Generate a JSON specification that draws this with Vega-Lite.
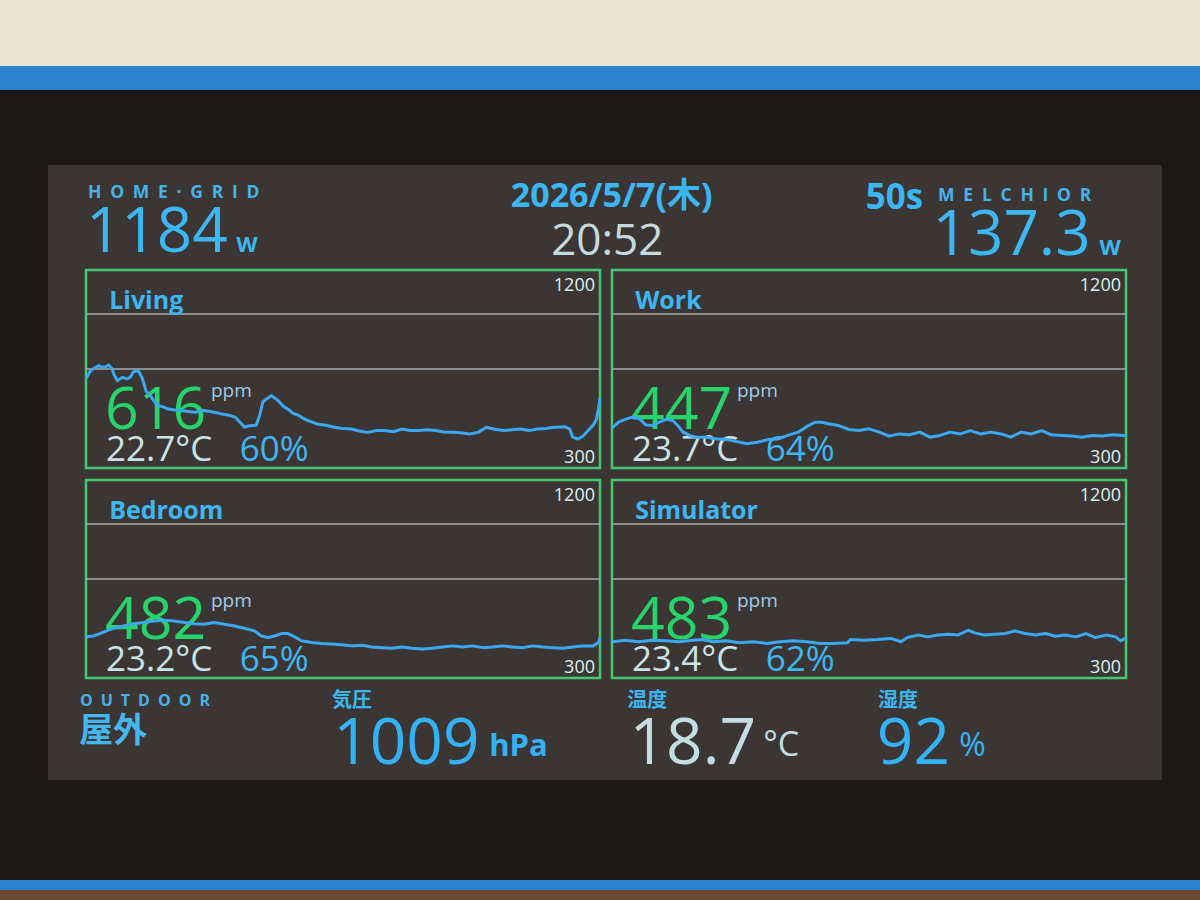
{
"$schema": "https://vega.github.io/schema/vega-lite/v6.json",
"background": "#3b3634",
"padding": 0,
"spacing": 0,
"config": {"view": {"stroke": null}, "concat": {"spacing": 0}, "text": {"font": "Open Sans, Noto Sans CJK JP"}},
"datasets": {
"header": [{"grid_label": "HOME·GRID", "grid_w": 1184, "date": "2026/5/7(木)", "time": "20:52", "age": "50s", "pc_label": "MELCHIOR", "pc_w": 137.3}],
"outdoor": [{"place": "OUTDOOR", "place_ja": "屋外", "pressure": 1009, "temp": 18.7, "hum": 92}],
"rooms": [{"room": "Living", "ppm": 616, "temp": 22.7, "hum": 60}, {"room": "Work", "ppm": 447, "temp": 23.7, "hum": 64}, {"room": "Bedroom", "ppm": 482, "temp": 23.2, "hum": 65}, {"room": "Simulator", "ppm": 483, "temp": 23.4, "hum": 62}],
"bounds": [{"lim": 1200}, {"lim": 300}],
"living": [{"t":0,"ppm":705},{"t":0.8,"ppm":740},{"t":1.5,"ppm":752},{"t":2.4,"ppm":765},{"t":3.1,"ppm":758},{"t":3.8,"ppm":760},{"t":4.4,"ppm":768},{"t":5.1,"ppm":750},{"t":5.4,"ppm":727},{"t":6.1,"ppm":697},{"t":7.1,"ppm":712},{"t":8.0,"ppm":705},{"t":8.7,"ppm":715},{"t":9.2,"ppm":737},{"t":10.2,"ppm":742},{"t":11.0,"ppm":705},{"t":11.7,"ppm":648},{"t":12.3,"ppm":636},{"t":13.0,"ppm":612},{"t":14.0,"ppm":583},{"t":15.0,"ppm":578},{"t":16.0,"ppm":568},{"t":17.3,"ppm":564},{"t":18.6,"ppm":561},{"t":19.9,"ppm":557},{"t":21.2,"ppm":553},{"t":22.5,"ppm":562},{"t":23.9,"ppm":558},{"t":25.2,"ppm":552},{"t":26.5,"ppm":545},{"t":27.8,"ppm":540},{"t":29.1,"ppm":530},{"t":30.1,"ppm":505},{"t":30.8,"ppm":485},{"t":31.8,"ppm":492},{"t":33.1,"ppm":494},{"t":33.8,"ppm":540},{"t":34.4,"ppm":600},{"t":35.1,"ppm":614},{"t":36.1,"ppm":629},{"t":36.7,"ppm":618},{"t":37.4,"ppm":606},{"t":38.4,"ppm":580},{"t":39.4,"ppm":566},{"t":40.3,"ppm":548},{"t":41.3,"ppm":540},{"t":42.3,"ppm":525},{"t":43.6,"ppm":512},{"t":45.0,"ppm":500},{"t":46.6,"ppm":494},{"t":48.3,"ppm":485},{"t":49.9,"ppm":480},{"t":51.6,"ppm":477},{"t":53.2,"ppm":468},{"t":54.8,"ppm":462},{"t":56.5,"ppm":470},{"t":58.1,"ppm":470},{"t":59.8,"ppm":465},{"t":61.4,"ppm":477},{"t":63.1,"ppm":470},{"t":64.7,"ppm":470},{"t":66.4,"ppm":474},{"t":68.0,"ppm":470},{"t":69.7,"ppm":464},{"t":71.3,"ppm":462},{"t":72.9,"ppm":460},{"t":74.6,"ppm":455},{"t":76.3,"ppm":462},{"t":77.9,"ppm":485},{"t":79.5,"ppm":476},{"t":81.2,"ppm":470},{"t":82.9,"ppm":474},{"t":84.5,"ppm":477},{"t":86.2,"ppm":470},{"t":87.8,"ppm":477},{"t":89.5,"ppm":480},{"t":91.1,"ppm":485},{"t":93.1,"ppm":488},{"t":94.1,"ppm":478},{"t":94.7,"ppm":440},{"t":95.7,"ppm":432},{"t":96.7,"ppm":445},{"t":97.7,"ppm":470},{"t":98.7,"ppm":495},{"t":99.3,"ppm":520},{"t":99.7,"ppm":570},{"t":100,"ppm":616}],
"work": [{"t":0,"ppm":481},{"t":1.3,"ppm":508},{"t":2.6,"ppm":521},{"t":3.9,"ppm":531},{"t":5.3,"ppm":524},{"t":6.6,"ppm":496},{"t":7.9,"ppm":493},{"t":9.2,"ppm":508},{"t":10.5,"ppm":521},{"t":11.8,"ppm":516},{"t":12.8,"ppm":493},{"t":13.8,"ppm":463},{"t":15.1,"ppm":448},{"t":16.4,"ppm":440},{"t":18.4,"ppm":440},{"t":20.4,"ppm":432},{"t":22.4,"ppm":429},{"t":24.3,"ppm":420},{"t":26.3,"ppm":410},{"t":28.3,"ppm":417},{"t":30.3,"ppm":429},{"t":32.2,"ppm":432},{"t":34.2,"ppm":448},{"t":36.2,"ppm":463},{"t":38.2,"ppm":493},{"t":39.5,"ppm":508},{"t":40.8,"ppm":508},{"t":42.1,"ppm":501},{"t":44.1,"ppm":493},{"t":46.1,"ppm":475},{"t":48.0,"ppm":470},{"t":50.0,"ppm":478},{"t":52.0,"ppm":463},{"t":53.9,"ppm":445},{"t":55.9,"ppm":455},{"t":57.9,"ppm":451},{"t":59.9,"ppm":463},{"t":61.8,"ppm":440},{"t":63.8,"ppm":448},{"t":65.8,"ppm":463},{"t":67.8,"ppm":455},{"t":69.7,"ppm":470},{"t":71.7,"ppm":455},{"t":73.7,"ppm":463},{"t":75.7,"ppm":455},{"t":77.6,"ppm":440},{"t":79.6,"ppm":463},{"t":81.6,"ppm":455},{"t":83.6,"ppm":470},{"t":85.5,"ppm":451},{"t":87.5,"ppm":448},{"t":89.5,"ppm":445},{"t":91.4,"ppm":440},{"t":93.4,"ppm":448},{"t":95.4,"ppm":445},{"t":97.4,"ppm":451},{"t":100,"ppm":447}],
"bedroom": [{"t":0,"ppm":487},{"t":1.4,"ppm":491},{"t":2.7,"ppm":502},{"t":4.0,"ppm":514},{"t":5.4,"ppm":526},{"t":7.3,"ppm":536},{"t":9.3,"ppm":547},{"t":11.2,"ppm":552},{"t":13.2,"ppm":559},{"t":15.1,"ppm":562},{"t":17.1,"ppm":559},{"t":19.1,"ppm":552},{"t":21.0,"ppm":547},{"t":23.0,"ppm":544},{"t":24.9,"ppm":552},{"t":26.9,"ppm":544},{"t":28.9,"ppm":536},{"t":30.8,"ppm":526},{"t":32.8,"ppm":514},{"t":34.1,"ppm":491},{"t":35.4,"ppm":484},{"t":36.7,"ppm":491},{"t":38.0,"ppm":502},{"t":39.3,"ppm":502},{"t":40.6,"ppm":487},{"t":41.9,"ppm":469},{"t":43.9,"ppm":461},{"t":45.8,"ppm":457},{"t":47.8,"ppm":454},{"t":49.7,"ppm":451},{"t":51.7,"ppm":446},{"t":53.7,"ppm":449},{"t":55.6,"ppm":441},{"t":57.6,"ppm":438},{"t":59.5,"ppm":435},{"t":61.5,"ppm":441},{"t":63.4,"ppm":435},{"t":65.4,"ppm":432},{"t":67.4,"ppm":435},{"t":69.3,"ppm":441},{"t":71.3,"ppm":446},{"t":73.2,"ppm":441},{"t":75.2,"ppm":446},{"t":77.2,"ppm":438},{"t":79.1,"ppm":441},{"t":81.1,"ppm":446},{"t":83.0,"ppm":441},{"t":85.0,"ppm":438},{"t":86.9,"ppm":446},{"t":88.9,"ppm":441},{"t":90.9,"ppm":438},{"t":92.8,"ppm":435},{"t":94.8,"ppm":441},{"t":96.7,"ppm":446},{"t":98.7,"ppm":446},{"t":99.7,"ppm":461},{"t":100,"ppm":482}],
"simulator": [{"t":0,"ppm":465},{"t":2.6,"ppm":472},{"t":5.2,"ppm":465},{"t":7.8,"ppm":472},{"t":10.5,"ppm":469},{"t":13.1,"ppm":465},{"t":15.7,"ppm":472},{"t":17.6,"ppm":475},{"t":19.6,"ppm":465},{"t":22.2,"ppm":469},{"t":24.8,"ppm":460},{"t":27.5,"ppm":465},{"t":30.1,"ppm":457},{"t":32.7,"ppm":465},{"t":35.3,"ppm":469},{"t":37.9,"ppm":465},{"t":40.5,"ppm":457},{"t":43.1,"ppm":457},{"t":45.8,"ppm":460},{"t":46.4,"ppm":475},{"t":49.0,"ppm":472},{"t":51.6,"ppm":475},{"t":54.2,"ppm":480},{"t":56.2,"ppm":465},{"t":57.5,"ppm":484},{"t":59.5,"ppm":495},{"t":61.4,"ppm":487},{"t":63.4,"ppm":495},{"t":65.4,"ppm":499},{"t":67.3,"ppm":495},{"t":69.3,"ppm":517},{"t":70.6,"ppm":505},{"t":72.5,"ppm":495},{"t":74.5,"ppm":499},{"t":76.5,"ppm":502},{"t":78.4,"ppm":514},{"t":80.4,"ppm":502},{"t":82.4,"ppm":495},{"t":84.3,"ppm":502},{"t":86.3,"ppm":490},{"t":88.2,"ppm":495},{"t":90.2,"ppm":487},{"t":92.2,"ppm":502},{"t":94.1,"ppm":484},{"t":96.1,"ppm":495},{"t":98.0,"ppm":487},{"t":99.0,"ppm":469},{"t":100,"ppm":483}]
},
"vconcat": [
{"width": 1200, "height": 66, "view": {"fill": "#ebe4d4"}, "data": {"values": []}, "mark": "text", "encoding": {}},
{"width": 1200, "height": 24, "view": {"fill": "#2c82cb"}, "data": {"values": []}, "mark": "text", "encoding": {}},
{"width": 1200, "height": 75, "view": {"fill": "#1b1717"}, "data": {"values": []}, "mark": "text", "encoding": {}},
{"hconcat": [
  {"width": 48, "height": 615, "view": {"fill": "#1b1717"}, "data": {"values": []}, "mark": "text", "encoding": {}},
  {"vconcat": [
    {"width": 1114, "height": 103, "data": {"name": "header"},
     "transform": [{"calculate": "join(split(datum.grid_label,''),'\u2002')", "as": "grid_sp"}, {"calculate": "join(split(datum.pc_label,''),'\u2002')", "as": "pc_sp"}],
     "layer": [
      {"mark": {"type": "text", "align": "left", "baseline": "alphabetic", "fontSize": 17.5, "fontWeight": "bold", "color": "#45b3ea"}, "encoding": {"x": {"datum": 3.59, "type": "quantitative", "scale": {"domain": [0,100], "nice": false, "zero": false}, "axis": null}, "y": {"datum": 32, "type": "quantitative", "scale": {"domain": [0,100], "reverse": true, "nice": false, "zero": false}, "axis": null}, "text": {"field": "grid_sp", "type": "nominal"}}},
      {"mark": {"type": "text", "align": "left", "baseline": "alphabetic", "fontSize": 62, "color": "#3cb7f4"}, "encoding": {"x": {"datum": 3.4, "type": "quantitative", "scale": {"domain": [0,100], "nice": false, "zero": false}, "axis": null}, "y": {"datum": 84.5, "type": "quantitative", "scale": {"domain": [0,100], "reverse": true, "nice": false, "zero": false}, "axis": null}, "text": {"field": "grid_w", "type": "quantitative", "format": "d"}}},
      {"mark": {"type": "text", "align": "left", "baseline": "alphabetic", "fontSize": 22, "fontWeight": "bold", "color": "#3cb7f4"}, "encoding": {"x": {"datum": 16.9, "type": "quantitative", "scale": {"domain": [0,100], "nice": false, "zero": false}, "axis": null}, "y": {"datum": 84.5, "type": "quantitative", "scale": {"domain": [0,100], "reverse": true, "nice": false, "zero": false}, "axis": null}, "text": {"value": "W"}}},
      {"mark": {"type": "text", "align": "center", "baseline": "alphabetic", "fontSize": 34, "fontWeight": "bold", "color": "#3cb6f3"}, "encoding": {"x": {"datum": 50.6, "type": "quantitative", "scale": {"domain": [0,100], "nice": false, "zero": false}, "axis": null}, "y": {"datum": 40.8, "type": "quantitative", "scale": {"domain": [0,100], "reverse": true, "nice": false, "zero": false}, "axis": null}, "text": {"field": "date", "type": "nominal"}}},
      {"mark": {"type": "text", "align": "center", "baseline": "alphabetic", "fontSize": 44, "color": "#c4dadf"}, "encoding": {"x": {"datum": 50.2, "type": "quantitative", "scale": {"domain": [0,100], "nice": false, "zero": false}, "axis": null}, "y": {"datum": 87.4, "type": "quantitative", "scale": {"domain": [0,100], "reverse": true, "nice": false, "zero": false}, "axis": null}, "text": {"field": "time", "type": "nominal"}}},
      {"mark": {"type": "text", "align": "left", "baseline": "alphabetic", "fontSize": 35, "fontWeight": "bold", "color": "#3cb6f3"}, "encoding": {"x": {"datum": 73.4, "type": "quantitative", "scale": {"domain": [0,100], "nice": false, "zero": false}, "axis": null}, "y": {"datum": 42.7, "type": "quantitative", "scale": {"domain": [0,100], "reverse": true, "nice": false, "zero": false}, "axis": null}, "text": {"field": "age", "type": "nominal"}}},
      {"mark": {"type": "text", "align": "left", "baseline": "alphabetic", "fontSize": 17.5, "fontWeight": "bold", "color": "#45b3ea"}, "encoding": {"x": {"datum": 79.9, "type": "quantitative", "scale": {"domain": [0,100], "nice": false, "zero": false}, "axis": null}, "y": {"datum": 35.0, "type": "quantitative", "scale": {"domain": [0,100], "reverse": true, "nice": false, "zero": false}, "axis": null}, "text": {"field": "pc_sp", "type": "nominal"}}},
      {"mark": {"type": "text", "align": "left", "baseline": "alphabetic", "fontSize": 62, "color": "#3cb7f4"}, "encoding": {"x": {"datum": 79.4, "type": "quantitative", "scale": {"domain": [0,100], "nice": false, "zero": false}, "axis": null}, "y": {"datum": 87.4, "type": "quantitative", "scale": {"domain": [0,100], "reverse": true, "nice": false, "zero": false}, "axis": null}, "text": {"field": "pc_w", "type": "quantitative", "format": ".1f"}}},
      {"mark": {"type": "text", "align": "left", "baseline": "alphabetic", "fontSize": 22, "fontWeight": "bold", "color": "#3cb7f4"}, "encoding": {"x": {"datum": 94.4, "type": "quantitative", "scale": {"domain": [0,100], "nice": false, "zero": false}, "axis": null}, "y": {"datum": 87.4, "type": "quantitative", "scale": {"domain": [0,100], "reverse": true, "nice": false, "zero": false}, "axis": null}, "text": {"value": "W"}}}
     ]},
    {"vconcat": [
      {"hconcat": [
        {"width": 29, "height": 198, "data": {"values": []}, "mark": "text", "encoding": {}},
        {"width": 514, "height": 198, "view": {"stroke": "#45c872", "strokeWidth": 2.5},
         "layer": [
          {"data": {"values": [{"level": 1000}, {"level": 750}]}, "mark": {"type": "rule", "color": "#a7abaf", "strokeWidth": 1.5}, "encoding": {"y": {"field": "level", "type": "quantitative", "scale": {"domain": [300,1200], "nice": false, "zero": false}, "axis": null}}},
          {"data": {"name": "bounds"}, "transform": [{"filter": "datum.lim === 1200"}], "mark": {"type": "text", "align": "right", "baseline": "alphabetic", "dx": -5, "dy": 21, "fontSize": 18, "color": "#dcf0f3"}, "encoding": {"x": {"datum": 100, "type": "quantitative", "scale": {"domain": [0,100], "nice": false, "zero": false}, "axis": null}, "y": {"field": "lim", "type": "quantitative", "scale": {"domain": [300,1200], "nice": false, "zero": false}, "axis": null}, "text": {"field": "lim", "type": "quantitative", "format": "d"}}},
          {"data": {"name": "bounds"}, "transform": [{"filter": "datum.lim === 300"}], "mark": {"type": "text", "align": "right", "baseline": "alphabetic", "dx": -5, "dy": -5, "fontSize": 18, "color": "#dcf0f3"}, "encoding": {"x": {"datum": 100, "type": "quantitative", "scale": {"domain": [0,100], "nice": false, "zero": false}, "axis": null}, "y": {"field": "lim", "type": "quantitative", "scale": {"domain": [300,1200], "nice": false, "zero": false}, "axis": null}, "text": {"field": "lim", "type": "quantitative", "format": "d"}}},
          {"data": {"name": "rooms"}, "transform": [{"filter": "datum.room === 'Living'"}, {"calculate": "format(datum.temp, '.1f') + '°C'", "as": "temp_label"}, {"calculate": "datum.hum + '%'", "as": "hum_label"}],
           "layer": [
            {"mark": {"type": "text", "align": "left", "baseline": "alphabetic", "fontSize": 25, "fontWeight": "bold", "color": "#3db6f3"}, "encoding": {"x": {"datum": 4.5, "type": "quantitative", "scale": {"domain": [0,100], "nice": false, "zero": false}, "axis": null}, "y": {"datum": 1023, "type": "quantitative", "scale": {"domain": [300,1200], "nice": false, "zero": false}, "axis": null}, "text": {"field": "room", "type": "nominal"}}},
            {"mark": {"type": "text", "align": "left", "baseline": "alphabetic", "fontSize": 59, "color": "#27d36b"}, "encoding": {"x": {"datum": 3.7, "type": "quantitative", "scale": {"domain": [0,100], "nice": false, "zero": false}, "axis": null}, "y": {"datum": 477, "type": "quantitative", "scale": {"domain": [300,1200], "nice": false, "zero": false}, "axis": null}, "text": {"field": "ppm", "type": "quantitative", "format": "d"}}},
            {"mark": {"type": "text", "align": "left", "baseline": "alphabetic", "fontSize": 19, "color": "#a2cbe6"}, "encoding": {"x": {"datum": 24.3, "type": "quantitative", "scale": {"domain": [0,100], "nice": false, "zero": false}, "axis": null}, "y": {"datum": 623, "type": "quantitative", "scale": {"domain": [300,1200], "nice": false, "zero": false}, "axis": null}, "text": {"value": "ppm"}}},
            {"mark": {"type": "text", "align": "left", "baseline": "alphabetic", "fontSize": 35, "color": "#c9e3e6"}, "encoding": {"x": {"datum": 3.9, "type": "quantitative", "scale": {"domain": [0,100], "nice": false, "zero": false}, "axis": null}, "y": {"datum": 332, "type": "quantitative", "scale": {"domain": [300,1200], "nice": false, "zero": false}, "axis": null}, "text": {"field": "temp_label", "type": "nominal"}}},
            {"mark": {"type": "text", "align": "left", "baseline": "alphabetic", "fontSize": 35, "color": "#3db6f3"}, "encoding": {"x": {"datum": 29.9, "type": "quantitative", "scale": {"domain": [0,100], "nice": false, "zero": false}, "axis": null}, "y": {"datum": 332, "type": "quantitative", "scale": {"domain": [300,1200], "nice": false, "zero": false}, "axis": null}, "text": {"field": "hum_label", "type": "nominal"}}}
           ]},
          {"data": {"name": "living"}, "mark": {"type": "line", "color": "#3ba9f1", "strokeWidth": 3, "strokeJoin": "round"}, "encoding": {"x": {"field": "t", "type": "quantitative", "scale": {"domain": [0,100], "nice": false, "zero": false}, "axis": null}, "y": {"field": "ppm", "type": "quantitative", "scale": {"domain": [300,1200], "nice": false, "zero": false}, "axis": null}}}
         ]},
        {"width": 514, "height": 198, "view": {"stroke": "#45c872", "strokeWidth": 2.5},
         "layer": [
          {"data": {"values": [{"level": 1000}, {"level": 750}]}, "mark": {"type": "rule", "color": "#a7abaf", "strokeWidth": 1.5}, "encoding": {"y": {"field": "level", "type": "quantitative", "scale": {"domain": [300,1200], "nice": false, "zero": false}, "axis": null}}},
          {"data": {"name": "bounds"}, "transform": [{"filter": "datum.lim === 1200"}], "mark": {"type": "text", "align": "right", "baseline": "alphabetic", "dx": -5, "dy": 21, "fontSize": 18, "color": "#dcf0f3"}, "encoding": {"x": {"datum": 100, "type": "quantitative", "scale": {"domain": [0,100], "nice": false, "zero": false}, "axis": null}, "y": {"field": "lim", "type": "quantitative", "scale": {"domain": [300,1200], "nice": false, "zero": false}, "axis": null}, "text": {"field": "lim", "type": "quantitative", "format": "d"}}},
          {"data": {"name": "bounds"}, "transform": [{"filter": "datum.lim === 300"}], "mark": {"type": "text", "align": "right", "baseline": "alphabetic", "dx": -5, "dy": -5, "fontSize": 18, "color": "#dcf0f3"}, "encoding": {"x": {"datum": 100, "type": "quantitative", "scale": {"domain": [0,100], "nice": false, "zero": false}, "axis": null}, "y": {"field": "lim", "type": "quantitative", "scale": {"domain": [300,1200], "nice": false, "zero": false}, "axis": null}, "text": {"field": "lim", "type": "quantitative", "format": "d"}}},
          {"data": {"name": "rooms"}, "transform": [{"filter": "datum.room === 'Work'"}, {"calculate": "format(datum.temp, '.1f') + '°C'", "as": "temp_label"}, {"calculate": "datum.hum + '%'", "as": "hum_label"}],
           "layer": [
            {"mark": {"type": "text", "align": "left", "baseline": "alphabetic", "fontSize": 25, "fontWeight": "bold", "color": "#3db6f3"}, "encoding": {"x": {"datum": 4.5, "type": "quantitative", "scale": {"domain": [0,100], "nice": false, "zero": false}, "axis": null}, "y": {"datum": 1023, "type": "quantitative", "scale": {"domain": [300,1200], "nice": false, "zero": false}, "axis": null}, "text": {"field": "room", "type": "nominal"}}},
            {"mark": {"type": "text", "align": "left", "baseline": "alphabetic", "fontSize": 59, "color": "#27d36b"}, "encoding": {"x": {"datum": 3.7, "type": "quantitative", "scale": {"domain": [0,100], "nice": false, "zero": false}, "axis": null}, "y": {"datum": 477, "type": "quantitative", "scale": {"domain": [300,1200], "nice": false, "zero": false}, "axis": null}, "text": {"field": "ppm", "type": "quantitative", "format": "d"}}},
            {"mark": {"type": "text", "align": "left", "baseline": "alphabetic", "fontSize": 19, "color": "#a2cbe6"}, "encoding": {"x": {"datum": 24.3, "type": "quantitative", "scale": {"domain": [0,100], "nice": false, "zero": false}, "axis": null}, "y": {"datum": 623, "type": "quantitative", "scale": {"domain": [300,1200], "nice": false, "zero": false}, "axis": null}, "text": {"value": "ppm"}}},
            {"mark": {"type": "text", "align": "left", "baseline": "alphabetic", "fontSize": 35, "color": "#c9e3e6"}, "encoding": {"x": {"datum": 3.9, "type": "quantitative", "scale": {"domain": [0,100], "nice": false, "zero": false}, "axis": null}, "y": {"datum": 332, "type": "quantitative", "scale": {"domain": [300,1200], "nice": false, "zero": false}, "axis": null}, "text": {"field": "temp_label", "type": "nominal"}}},
            {"mark": {"type": "text", "align": "left", "baseline": "alphabetic", "fontSize": 35, "color": "#3db6f3"}, "encoding": {"x": {"datum": 29.9, "type": "quantitative", "scale": {"domain": [0,100], "nice": false, "zero": false}, "axis": null}, "y": {"datum": 332, "type": "quantitative", "scale": {"domain": [300,1200], "nice": false, "zero": false}, "axis": null}, "text": {"field": "hum_label", "type": "nominal"}}}
           ]},
          {"data": {"name": "work"}, "mark": {"type": "line", "color": "#3ba9f1", "strokeWidth": 3, "strokeJoin": "round"}, "encoding": {"x": {"field": "t", "type": "quantitative", "scale": {"domain": [0,100], "nice": false, "zero": false}, "axis": null}, "y": {"field": "ppm", "type": "quantitative", "scale": {"domain": [300,1200], "nice": false, "zero": false}, "axis": null}}}
         ]}
      ], "spacing": 6},
      {"hconcat": [
        {"width": 29, "height": 198, "data": {"values": []}, "mark": "text", "encoding": {}},
        {"width": 514, "height": 198, "view": {"stroke": "#45c872", "strokeWidth": 2.5},
         "layer": [
          {"data": {"values": [{"level": 1000}, {"level": 750}]}, "mark": {"type": "rule", "color": "#a7abaf", "strokeWidth": 1.5}, "encoding": {"y": {"field": "level", "type": "quantitative", "scale": {"domain": [300,1200], "nice": false, "zero": false}, "axis": null}}},
          {"data": {"name": "bounds"}, "transform": [{"filter": "datum.lim === 1200"}], "mark": {"type": "text", "align": "right", "baseline": "alphabetic", "dx": -5, "dy": 21, "fontSize": 18, "color": "#dcf0f3"}, "encoding": {"x": {"datum": 100, "type": "quantitative", "scale": {"domain": [0,100], "nice": false, "zero": false}, "axis": null}, "y": {"field": "lim", "type": "quantitative", "scale": {"domain": [300,1200], "nice": false, "zero": false}, "axis": null}, "text": {"field": "lim", "type": "quantitative", "format": "d"}}},
          {"data": {"name": "bounds"}, "transform": [{"filter": "datum.lim === 300"}], "mark": {"type": "text", "align": "right", "baseline": "alphabetic", "dx": -5, "dy": -5, "fontSize": 18, "color": "#dcf0f3"}, "encoding": {"x": {"datum": 100, "type": "quantitative", "scale": {"domain": [0,100], "nice": false, "zero": false}, "axis": null}, "y": {"field": "lim", "type": "quantitative", "scale": {"domain": [300,1200], "nice": false, "zero": false}, "axis": null}, "text": {"field": "lim", "type": "quantitative", "format": "d"}}},
          {"data": {"name": "rooms"}, "transform": [{"filter": "datum.room === 'Bedroom'"}, {"calculate": "format(datum.temp, '.1f') + '°C'", "as": "temp_label"}, {"calculate": "datum.hum + '%'", "as": "hum_label"}],
           "layer": [
            {"mark": {"type": "text", "align": "left", "baseline": "alphabetic", "fontSize": 25, "fontWeight": "bold", "color": "#3db6f3"}, "encoding": {"x": {"datum": 4.5, "type": "quantitative", "scale": {"domain": [0,100], "nice": false, "zero": false}, "axis": null}, "y": {"datum": 1023, "type": "quantitative", "scale": {"domain": [300,1200], "nice": false, "zero": false}, "axis": null}, "text": {"field": "room", "type": "nominal"}}},
            {"mark": {"type": "text", "align": "left", "baseline": "alphabetic", "fontSize": 59, "color": "#27d36b"}, "encoding": {"x": {"datum": 3.7, "type": "quantitative", "scale": {"domain": [0,100], "nice": false, "zero": false}, "axis": null}, "y": {"datum": 477, "type": "quantitative", "scale": {"domain": [300,1200], "nice": false, "zero": false}, "axis": null}, "text": {"field": "ppm", "type": "quantitative", "format": "d"}}},
            {"mark": {"type": "text", "align": "left", "baseline": "alphabetic", "fontSize": 19, "color": "#a2cbe6"}, "encoding": {"x": {"datum": 24.3, "type": "quantitative", "scale": {"domain": [0,100], "nice": false, "zero": false}, "axis": null}, "y": {"datum": 623, "type": "quantitative", "scale": {"domain": [300,1200], "nice": false, "zero": false}, "axis": null}, "text": {"value": "ppm"}}},
            {"mark": {"type": "text", "align": "left", "baseline": "alphabetic", "fontSize": 35, "color": "#c9e3e6"}, "encoding": {"x": {"datum": 3.9, "type": "quantitative", "scale": {"domain": [0,100], "nice": false, "zero": false}, "axis": null}, "y": {"datum": 332, "type": "quantitative", "scale": {"domain": [300,1200], "nice": false, "zero": false}, "axis": null}, "text": {"field": "temp_label", "type": "nominal"}}},
            {"mark": {"type": "text", "align": "left", "baseline": "alphabetic", "fontSize": 35, "color": "#3db6f3"}, "encoding": {"x": {"datum": 29.9, "type": "quantitative", "scale": {"domain": [0,100], "nice": false, "zero": false}, "axis": null}, "y": {"datum": 332, "type": "quantitative", "scale": {"domain": [300,1200], "nice": false, "zero": false}, "axis": null}, "text": {"field": "hum_label", "type": "nominal"}}}
           ]},
          {"data": {"name": "bedroom"}, "mark": {"type": "line", "color": "#3ba9f1", "strokeWidth": 3, "strokeJoin": "round"}, "encoding": {"x": {"field": "t", "type": "quantitative", "scale": {"domain": [0,100], "nice": false, "zero": false}, "axis": null}, "y": {"field": "ppm", "type": "quantitative", "scale": {"domain": [300,1200], "nice": false, "zero": false}, "axis": null}}}
         ]},
        {"width": 514, "height": 198, "view": {"stroke": "#45c872", "strokeWidth": 2.5},
         "layer": [
          {"data": {"values": [{"level": 1000}, {"level": 750}]}, "mark": {"type": "rule", "color": "#a7abaf", "strokeWidth": 1.5}, "encoding": {"y": {"field": "level", "type": "quantitative", "scale": {"domain": [300,1200], "nice": false, "zero": false}, "axis": null}}},
          {"data": {"name": "bounds"}, "transform": [{"filter": "datum.lim === 1200"}], "mark": {"type": "text", "align": "right", "baseline": "alphabetic", "dx": -5, "dy": 21, "fontSize": 18, "color": "#dcf0f3"}, "encoding": {"x": {"datum": 100, "type": "quantitative", "scale": {"domain": [0,100], "nice": false, "zero": false}, "axis": null}, "y": {"field": "lim", "type": "quantitative", "scale": {"domain": [300,1200], "nice": false, "zero": false}, "axis": null}, "text": {"field": "lim", "type": "quantitative", "format": "d"}}},
          {"data": {"name": "bounds"}, "transform": [{"filter": "datum.lim === 300"}], "mark": {"type": "text", "align": "right", "baseline": "alphabetic", "dx": -5, "dy": -5, "fontSize": 18, "color": "#dcf0f3"}, "encoding": {"x": {"datum": 100, "type": "quantitative", "scale": {"domain": [0,100], "nice": false, "zero": false}, "axis": null}, "y": {"field": "lim", "type": "quantitative", "scale": {"domain": [300,1200], "nice": false, "zero": false}, "axis": null}, "text": {"field": "lim", "type": "quantitative", "format": "d"}}},
          {"data": {"name": "rooms"}, "transform": [{"filter": "datum.room === 'Simulator'"}, {"calculate": "format(datum.temp, '.1f') + '°C'", "as": "temp_label"}, {"calculate": "datum.hum + '%'", "as": "hum_label"}],
           "layer": [
            {"mark": {"type": "text", "align": "left", "baseline": "alphabetic", "fontSize": 25, "fontWeight": "bold", "color": "#3db6f3"}, "encoding": {"x": {"datum": 4.5, "type": "quantitative", "scale": {"domain": [0,100], "nice": false, "zero": false}, "axis": null}, "y": {"datum": 1023, "type": "quantitative", "scale": {"domain": [300,1200], "nice": false, "zero": false}, "axis": null}, "text": {"field": "room", "type": "nominal"}}},
            {"mark": {"type": "text", "align": "left", "baseline": "alphabetic", "fontSize": 59, "color": "#27d36b"}, "encoding": {"x": {"datum": 3.7, "type": "quantitative", "scale": {"domain": [0,100], "nice": false, "zero": false}, "axis": null}, "y": {"datum": 477, "type": "quantitative", "scale": {"domain": [300,1200], "nice": false, "zero": false}, "axis": null}, "text": {"field": "ppm", "type": "quantitative", "format": "d"}}},
            {"mark": {"type": "text", "align": "left", "baseline": "alphabetic", "fontSize": 19, "color": "#a2cbe6"}, "encoding": {"x": {"datum": 24.3, "type": "quantitative", "scale": {"domain": [0,100], "nice": false, "zero": false}, "axis": null}, "y": {"datum": 623, "type": "quantitative", "scale": {"domain": [300,1200], "nice": false, "zero": false}, "axis": null}, "text": {"value": "ppm"}}},
            {"mark": {"type": "text", "align": "left", "baseline": "alphabetic", "fontSize": 35, "color": "#c9e3e6"}, "encoding": {"x": {"datum": 3.9, "type": "quantitative", "scale": {"domain": [0,100], "nice": false, "zero": false}, "axis": null}, "y": {"datum": 332, "type": "quantitative", "scale": {"domain": [300,1200], "nice": false, "zero": false}, "axis": null}, "text": {"field": "temp_label", "type": "nominal"}}},
            {"mark": {"type": "text", "align": "left", "baseline": "alphabetic", "fontSize": 35, "color": "#3db6f3"}, "encoding": {"x": {"datum": 29.9, "type": "quantitative", "scale": {"domain": [0,100], "nice": false, "zero": false}, "axis": null}, "y": {"datum": 332, "type": "quantitative", "scale": {"domain": [300,1200], "nice": false, "zero": false}, "axis": null}, "text": {"field": "hum_label", "type": "nominal"}}}
           ]},
          {"data": {"name": "simulator"}, "mark": {"type": "line", "color": "#3ba9f1", "strokeWidth": 3, "strokeJoin": "round"}, "encoding": {"x": {"field": "t", "type": "quantitative", "scale": {"domain": [0,100], "nice": false, "zero": false}, "axis": null}, "y": {"field": "ppm", "type": "quantitative", "scale": {"domain": [300,1200], "nice": false, "zero": false}, "axis": null}}}
         ]}
      ], "spacing": 6}
    ], "spacing": 8},
    {"width": 1114, "height": 98, "data": {"name": "outdoor"},
     "transform": [{"calculate": "join(split(datum.place,''),'\u2002')", "as": "place_sp"}],
     "layer": [
      {"mark": {"type": "text", "align": "left", "baseline": "alphabetic", "fontSize": 16, "fontWeight": "bold", "color": "#45b3ea"}, "encoding": {"x": {"datum": 2.87, "type": "quantitative", "scale": {"domain": [0,100], "nice": false, "zero": false}, "axis": null}, "y": {"datum": 26.6, "type": "quantitative", "scale": {"domain": [0,100], "reverse": true, "nice": false, "zero": false}, "axis": null}, "text": {"field": "place_sp", "type": "nominal"}}},
      {"mark": {"type": "text", "align": "left", "baseline": "alphabetic", "fontSize": 34, "fontWeight": "bold", "color": "#45b6ee"}, "encoding": {"x": {"datum": 2.78, "type": "quantitative", "scale": {"domain": [0,100], "nice": false, "zero": false}, "axis": null}, "y": {"datum": 63.3, "type": "quantitative", "scale": {"domain": [0,100], "reverse": true, "nice": false, "zero": false}, "axis": null}, "text": {"field": "place_ja", "type": "nominal"}}},
      {"mark": {"type": "text", "align": "left", "baseline": "alphabetic", "fontSize": 20, "fontWeight": "bold", "color": "#3cb6f3"}, "encoding": {"x": {"datum": 25.5, "type": "quantitative", "scale": {"domain": [0,100], "nice": false, "zero": false}, "axis": null}, "y": {"datum": 27.6, "type": "quantitative", "scale": {"domain": [0,100], "reverse": true, "nice": false, "zero": false}, "axis": null}, "text": {"value": "気圧"}}},
      {"mark": {"type": "text", "align": "left", "baseline": "alphabetic", "fontSize": 64, "color": "#33b2f5"}, "encoding": {"x": {"datum": 25.6, "type": "quantitative", "scale": {"domain": [0,100], "nice": false, "zero": false}, "axis": null}, "y": {"datum": 86.2, "type": "quantitative", "scale": {"domain": [0,100], "reverse": true, "nice": false, "zero": false}, "axis": null}, "text": {"field": "pressure", "type": "quantitative", "format": "d"}}},
      {"mark": {"type": "text", "align": "left", "baseline": "alphabetic", "fontSize": 31, "fontWeight": "bold", "color": "#33b2f5"}, "encoding": {"x": {"datum": 39.6, "type": "quantitative", "scale": {"domain": [0,100], "nice": false, "zero": false}, "axis": null}, "y": {"datum": 77.6, "type": "quantitative", "scale": {"domain": [0,100], "reverse": true, "nice": false, "zero": false}, "axis": null}, "text": {"value": "hPa"}}},
      {"mark": {"type": "text", "align": "left", "baseline": "alphabetic", "fontSize": 20, "fontWeight": "bold", "color": "#3cb6f3"}, "encoding": {"x": {"datum": 52.0, "type": "quantitative", "scale": {"domain": [0,100], "nice": false, "zero": false}, "axis": null}, "y": {"datum": 27.6, "type": "quantitative", "scale": {"domain": [0,100], "reverse": true, "nice": false, "zero": false}, "axis": null}, "text": {"value": "温度"}}},
      {"mark": {"type": "text", "align": "left", "baseline": "alphabetic", "fontSize": 64, "color": "#c3dde3"}, "encoding": {"x": {"datum": 52.2, "type": "quantitative", "scale": {"domain": [0,100], "nice": false, "zero": false}, "axis": null}, "y": {"datum": 86.2, "type": "quantitative", "scale": {"domain": [0,100], "reverse": true, "nice": false, "zero": false}, "axis": null}, "text": {"field": "temp", "type": "quantitative", "format": ".1f"}}},
      {"mark": {"type": "text", "align": "left", "baseline": "alphabetic", "fontSize": 34, "color": "#c3dde3"}, "encoding": {"x": {"datum": 64.2, "type": "quantitative", "scale": {"domain": [0,100], "nice": false, "zero": false}, "axis": null}, "y": {"datum": 77.6, "type": "quantitative", "scale": {"domain": [0,100], "reverse": true, "nice": false, "zero": false}, "axis": null}, "text": {"value": "°C"}}},
      {"mark": {"type": "text", "align": "left", "baseline": "alphabetic", "fontSize": 20, "fontWeight": "bold", "color": "#3cb6f3"}, "encoding": {"x": {"datum": 74.5, "type": "quantitative", "scale": {"domain": [0,100], "nice": false, "zero": false}, "axis": null}, "y": {"datum": 27.6, "type": "quantitative", "scale": {"domain": [0,100], "reverse": true, "nice": false, "zero": false}, "axis": null}, "text": {"value": "湿度"}}},
      {"mark": {"type": "text", "align": "left", "baseline": "alphabetic", "fontSize": 64, "color": "#33b2f5"}, "encoding": {"x": {"datum": 74.4, "type": "quantitative", "scale": {"domain": [0,100], "nice": false, "zero": false}, "axis": null}, "y": {"datum": 86.2, "type": "quantitative", "scale": {"domain": [0,100], "reverse": true, "nice": false, "zero": false}, "axis": null}, "text": {"field": "hum", "type": "quantitative", "format": "d"}}},
      {"mark": {"type": "text", "align": "left", "baseline": "alphabetic", "fontSize": 32, "color": "#33b2f5"}, "encoding": {"x": {"datum": 81.8, "type": "quantitative", "scale": {"domain": [0,100], "nice": false, "zero": false}, "axis": null}, "y": {"datum": 77.6, "type": "quantitative", "scale": {"domain": [0,100], "reverse": true, "nice": false, "zero": false}, "axis": null}, "text": {"value": "%"}}}
     ]}
  ], "spacing": 0},
  {"width": 38, "height": 615, "view": {"fill": "#1b1717"}, "data": {"values": []}, "mark": "text", "encoding": {}}
], "spacing": 0},
{"width": 1200, "height": 100, "view": {"fill": "#1b1717"}, "data": {"values": []}, "mark": "text", "encoding": {}},
{"width": 1200, "height": 10, "view": {"fill": "#2c82cb"}, "data": {"values": []}, "mark": "text", "encoding": {}},
{"width": 1200, "height": 10, "view": {"fill": "#6b4a33"}, "data": {"values": []}, "mark": "text", "encoding": {}}
]
}
